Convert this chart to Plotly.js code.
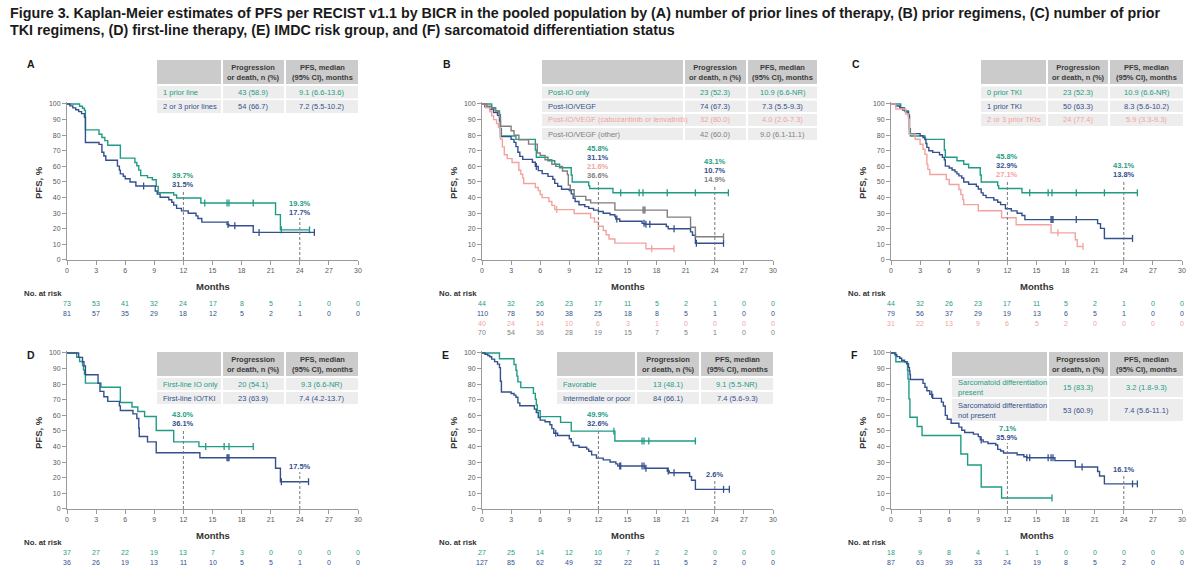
<!DOCTYPE html>
<html>
<head>
<meta charset="utf-8">
<script src="https://cdn.plot.ly/plotly-3.0.1.min.js"></script>
<style>
  html, body { margin: 0; padding: 0; background: #ffffff; }
  #chart { width: 1200px; height: 578px; }
</style>
</head>
<body>
<div id="chart"></div>
<script>
// ---------- shared ticks ----------
const monthTicks = [0, 3, 6, 9, 12, 15, 18, 21, 24, 27, 30];
const pctTicks = [0, 10, 20, 30, 40, 50, 60, 70, 80, 90, 100];

// ---------- (A) number of prior lines ----------
const aNames = ['1 prior line', '2 or 3 prior lines'];
const aEvents = ['43 (58.9)', '54 (66.7)'];
const aMedians = ['9.1 (6.6-13.6)', '7.2 (5.5-10.2)'];
const aOneT = [0, 1.3, 1.6, 1.8, 1.9, 3.3, 3.6, 3.9, 4.2, 5.5, 7.0, 7.2, 7.4, 7.6, 8.3, 8.8, 9.2, 9.4, 11.0, 11.3, 13.8, 21.5, 22.0, 25.0];
const aOneS = [100, 98.6, 97.3, 95.9, 83.4, 80.6, 78.5, 76.5, 73.6, 65.3, 62.5, 60.4, 57.6, 54.1, 52.8, 51.4, 47.2, 43.1, 41.7, 39.7, 36.5, 29.1, 19.3, 19.3];
const aOneCens = [14.2, 16.5, 16.7, 19.2, 22.1, 25.0];
const aTwoT = [0, 0.3, 0.6, 0.9, 1.2, 1.5, 1.8, 1.9, 3.3, 3.6, 3.8, 4.0, 5.2, 5.4, 5.5, 5.8, 6.0, 6.5, 7.1, 9.1, 9.3, 9.6, 10.5, 10.8, 11.0, 11.3, 11.8, 12.5, 13.3, 13.5, 13.9, 16.5, 16.7, 19.2, 25.5];
const aTwoS = [100, 98.8, 97.5, 96.3, 95.1, 93.8, 91.4, 75.3, 74.1, 69.1, 66.7, 63.9, 60.2, 57.6, 55.2, 53.7, 52.1, 50.0, 47.4, 44.2, 42.2, 40.2, 38.6, 37.0, 35.2, 33.1, 31.5, 30.0, 28.3, 26.6, 24.3, 22.8, 22.0, 17.7, 17.7];
const aTwoCens = [7.9, 16.6, 17.3, 19.8, 25.5];
const aRiskOne = [73, 53, 41, 32, 24, 17, 8, 5, 1, 0, 0];
const aRiskTwo = [81, 57, 35, 29, 18, 12, 5, 2, 1, 0, 0];
const aAt12 = [39.7, 31.5];
const aAt24 = [19.3, 17.7];

// ---------- (B) prior regimens ----------
const bNames = ['Post-IO only', 'Post-IO/VEGF', 'Post-IO/VEGF (cabozantinib or lenvatinib)', 'Post-IO/VEGF (other)'];
const bEvents = ['23 (52.3)', '74 (67.3)', '32 (80.0)', '42 (60.0)'];
const bMedians = ['10.9 (6.6-NR)', '7.3 (5.5-9.3)', '4.0 (2.0-7.3)', '9.0 (6.1-11.1)'];
const bIoT = [0, 1.0, 1.4, 1.8, 1.9, 2.0, 3.5, 5.5, 5.6, 6.8, 7.5, 8.0, 9.2, 9.3, 11.0, 11.1, 13.5, 25.4];
const bIoS = [100, 97.7, 95.5, 93.2, 84.1, 79.5, 77.3, 70.5, 65.9, 63.6, 61.4, 59.1, 54.5, 50.0, 47.7, 45.8, 43.1, 43.1];
const bIoCens = [14.3, 16.2, 16.6, 19.1, 22.0, 25.4];
const bVegfT = [0, 0.3, 0.8, 1.2, 1.6, 1.8, 1.9, 3.0, 3.3, 3.5, 3.7, 3.9, 4.2, 5.2, 5.5, 5.8, 6.2, 6.8, 7.3, 7.5, 7.8, 8.2, 9.0, 9.2, 9.4, 9.6, 10.0, 10.6, 11.0, 11.5, 12.0, 12.5, 13.2, 13.7, 13.8, 14.2, 16.5, 16.8, 19.0, 19.2, 21.5, 21.7, 22.0, 24.9];
const bVegfS = [100, 98.2, 96.4, 94.5, 92.7, 89.1, 79.1, 77.3, 75.4, 72.7, 69.1, 66.4, 64.5, 62.7, 60.0, 57.3, 55.4, 53.6, 51.8, 49.1, 47.3, 45.4, 44.5, 42.4, 39.6, 37.5, 35.4, 34.2, 33.1, 32.0, 31.1, 30.0, 29.0, 27.9, 26.3, 24.8, 23.5, 22.9, 21.5, 20.0, 18.0, 15.9, 10.7, 10.7];
const bVegfCens = [5.6, 13.9, 16.7, 16.9, 17.3, 19.8, 22.1, 24.9];
const bCaboT = [0, 0.4, 0.8, 1.0, 1.2, 1.5, 1.7, 1.9, 2.1, 2.3, 2.6, 3.1, 3.8, 4.0, 4.2, 4.3, 5.5, 5.8, 6.0, 6.2, 6.9, 7.2, 7.5, 9.5, 11.2, 11.6, 12.0, 12.5, 12.8, 13.1, 13.7, 16.9, 19.8];
const bCaboS = [100, 97.5, 95.0, 92.5, 90.0, 87.5, 85.0, 77.5, 72.5, 67.5, 65.0, 62.5, 57.5, 55.0, 52.5, 49.0, 46.5, 44.5, 42.0, 40.0, 37.5, 35.0, 32.3, 29.8, 27.0, 24.3, 21.6, 18.9, 16.2, 13.5, 10.8, 7.2, 7.2];
const bCaboCens = [7.7, 17.5, 19.8];
const bOtherT = [0, 0.5, 1.0, 1.4, 1.7, 1.8, 1.9, 3.0, 3.3, 3.8, 4.8, 5.7, 6.0, 6.5, 7.2, 7.6, 8.3, 8.8, 8.9, 9.1, 9.5, 10.7, 11.2, 13.7, 19.1, 21.5, 22.0, 24.9];
const bOtherS = [100, 98.6, 97.1, 95.7, 94.3, 91.4, 85.7, 82.9, 80.0, 77.1, 74.3, 68.6, 67.1, 64.3, 61.4, 60.0, 57.1, 54.7, 48.0, 45.0, 40.8, 38.5, 36.6, 32.0, 27.5, 21.0, 14.9, 14.9];
const bOtherCens = [16.6, 16.7, 16.8, 24.9];
const bRiskIo = [44, 32, 26, 23, 17, 11, 5, 2, 1, 0, 0];
const bRiskVegf = [110, 78, 50, 38, 25, 18, 8, 5, 1, 0, 0];
const bRiskCabo = [40, 24, 14, 10, 6, 3, 1, 0, 0, 0, 0];
const bRiskOther = [70, 54, 36, 28, 19, 15, 7, 5, 1, 0, 0];
const bAt12 = [45.8, 31.1, 21.6, 36.6];
const bAt24 = [43.1, 10.7, 14.9];

// ---------- (C) number of prior TKI regimens ----------
const cNames = ['0 prior TKI', '1 prior TKI', '2 or 3 prior TKIs'];
const cEvents = ['23 (52.3)', '50 (63.3)', '24 (77.4)'];
const cMedians = ['10.9 (6.6-NR)', '8.3 (5.6-10.2)', '5.9 (3.3-9.3)'];
const cZeroT = bIoT;
const cZeroS = bIoS;
const cZeroCens = bIoCens;
const cOneT = [0, 0.5, 0.9, 1.2, 1.5, 1.8, 1.9, 3.0, 3.3, 3.5, 3.6, 3.7, 3.9, 4.3, 5.0, 5.3, 5.5, 5.6, 6.0, 6.3, 6.6, 6.8, 7.0, 7.3, 7.5, 8.0, 8.8, 9.0, 9.3, 9.5, 9.8, 10.6, 11.0, 11.3, 11.8, 12.4, 13.0, 13.5, 13.8, 21.3, 21.6, 22.0, 24.9];
const cOneS = [100, 98.7, 97.5, 96.2, 94.9, 92.4, 81.0, 79.7, 78.5, 77.2, 74.7, 72.2, 70.0, 69.0, 67.5, 65.8, 64.2, 60.2, 59.0, 57.7, 56.5, 55.2, 53.9, 52.6, 50.0, 48.6, 47.2, 45.5, 43.0, 41.4, 40.0, 38.5, 37.0, 35.5, 32.9, 31.5, 30.0, 28.5, 25.9, 23.3, 20.3, 13.8, 13.8];
const cOneCens = [16.5, 16.6, 16.7, 19.1, 24.9];
const cTwoT = [0, 0.5, 1.5, 1.8, 1.9, 2.5, 3.0, 3.3, 3.5, 3.7, 3.8, 4.0, 5.7, 6.0, 7.0, 7.2, 7.4, 7.5, 9.0, 11.4, 12.9, 16.5, 19.0, 19.2, 19.8];
const cTwoS = [100, 96.8, 93.5, 90.3, 80.6, 77.4, 74.2, 71.0, 67.7, 61.3, 58.1, 54.8, 51.6, 48.4, 45.2, 41.9, 38.7, 35.5, 31.6, 27.1, 22.6, 17.4, 13.0, 8.7, 8.7];
const cTwoCens = [17.2, 19.8];
const cRiskZero = [44, 32, 26, 23, 17, 11, 5, 2, 1, 0, 0];
const cRiskOne = [79, 56, 37, 29, 19, 13, 6, 5, 1, 0, 0];
const cRiskTwo = [31, 22, 13, 9, 6, 5, 2, 0, 0, 0, 0];
const cAt12 = [45.8, 32.9, 27.1];
const cAt24 = [43.1, 13.8];

// ---------- (D) first-line therapy ----------
const dNames = ['First-line IO only', 'First-line IO/TKI'];
const dEvents = ['20 (54.1)', '23 (63.9)'];
const dMedians = ['9.3 (6.6-NR)', '7.4 (4.2-13.7)'];
const dIoT = [0, 1.0, 1.3, 1.6, 1.7, 1.8, 1.9, 3.5, 5.5, 6.7, 7.3, 8.0, 9.2, 11.0, 13.6, 19.2];
const dIoS = [100, 97.3, 94.6, 91.9, 89.2, 86.5, 80.7, 78.0, 68.3, 65.4, 62.5, 59.3, 50.3, 43.0, 40.0, 40.0];
const dIoCens = [14.3, 16.2, 16.7, 19.2];
const dTkiT = [0, 1.2, 1.6, 1.75, 1.9, 3.2, 3.4, 3.8, 4.2, 5.4, 5.5, 6.8, 7.2, 7.4, 7.45, 8.3, 9.2, 13.7, 21.5, 22.0, 24.9];
const dTkiS = [100, 97.2, 94.4, 91.7, 86.1, 80.6, 75.4, 72.0, 69.0, 66.1, 63.1, 61.0, 58.0, 51.8, 46.5, 43.0, 36.1, 32.9, 26.1, 17.5, 17.5];
const dTkiCens = [16.5, 16.6, 16.7, 22.1, 24.9];
const dRiskIo = [37, 27, 22, 19, 13, 7, 3, 0, 0, 0, 0];
const dRiskTki = [36, 26, 19, 13, 11, 10, 5, 5, 1, 0, 0];
const dAt12 = [43.0, 36.1];
const dAt24 = [17.5];

// ---------- (E) IMDC risk group ----------
const eNames = ['Favorable', 'Intermediate or poor'];
const eEvents = ['13 (48.1)', '84 (66.1)'];
const eMedians = ['9.1 (5.5-NR)', '7.4 (5.6-9.3)'];
const eFavT = [0, 1.8, 3.3, 3.5, 3.6, 3.7, 4.0, 5.3, 5.5, 5.6, 5.7, 6.0, 8.1, 9.2, 13.7, 22.0];
const eFavS = [100, 96.3, 92.6, 88.9, 85.2, 81.5, 77.8, 74.1, 70.4, 66.7, 63.0, 59.2, 55.5, 49.9, 43.6, 43.6];
const eFavCens = [13.6, 16.5, 16.7, 17.2, 22.0];
const eIntT = [0, 0.3, 0.6, 0.8, 1.0, 1.3, 1.6, 1.8, 1.9, 2.0, 3.0, 3.3, 3.5, 3.7, 3.9, 5.4, 5.6, 5.8, 6.0, 6.5, 7.0, 7.2, 7.4, 7.8, 9.0, 9.2, 9.4, 10.0, 10.8, 11.0, 11.3, 11.8, 12.5, 13.2, 13.8, 14.0, 16.8, 19.1, 19.3, 21.4, 21.6, 22.0, 25.5];
const eIntS = [100, 99.2, 98.4, 97.6, 96.1, 94.5, 92.9, 90.6, 81.9, 75.0, 74.0, 73.0, 71.6, 68.0, 66.2, 64.0, 61.8, 58.7, 57.0, 55.9, 54.0, 51.5, 48.6, 47.1, 45.0, 42.9, 40.7, 39.6, 38.4, 37.0, 34.7, 32.6, 31.5, 30.1, 28.9, 27.6, 26.1, 24.4, 23.2, 20.8, 18.4, 12.6, 12.6];
const eIntCens = [7.6, 14.2, 14.3, 16.5, 16.7, 16.9, 19.2, 19.8, 24.9, 25.5];
const eRiskFav = [27, 25, 14, 12, 10, 7, 2, 2, 0, 0, 0];
const eRiskInt = [127, 85, 62, 49, 32, 22, 11, 5, 2, 0, 0];
const eAt12 = [49.9, 32.6];
const eAt24 = [2.6];

// ---------- (F) sarcomatoid differentiation ----------
const fNames = ['Sarcomatoid differentiation<br>present', 'Sarcomatoid differentiation<br>not present'];
const fEvents = ['15 (83.3)', '53 (60.9)'];
const fMedians = ['3.2 (1.8-9.3)', '7.4 (5.6-11.1)'];
const fYesT = [0, 0.5, 1.7, 1.75, 1.85, 1.95, 2.7, 3.2, 7.2, 7.9, 9.3, 11.4, 16.6];
const fYesS = [100, 94.4, 88.9, 83.3, 70.6, 58.8, 52.9, 47.1, 35.3, 28.2, 14.1, 7.1, 7.1];
const fYesCens = [16.6];
const fNoT = [0, 0.4, 0.6, 0.9, 1.1, 1.4, 1.6, 1.8, 1.9, 1.95, 2.0, 3.3, 3.5, 3.7, 4.0, 4.3, 5.2, 5.4, 5.6, 5.8, 6.2, 7.0, 7.3, 7.6, 8.5, 9.0, 9.2, 9.5, 10.0, 10.8, 11.0, 11.3, 11.6, 13.0, 13.7, 14.0, 16.9, 19.0, 21.3, 21.5, 22.0, 25.4];
const fNoS = [100, 98.9, 97.7, 96.6, 95.4, 94.3, 93.1, 90.8, 88.5, 86.2, 83.0, 80.5, 78.0, 75.8, 73.5, 70.9, 68.5, 66.0, 60.0, 57.5, 55.0, 52.5, 50.5, 49.0, 48.0, 46.4, 44.3, 43.0, 42.0, 41.0, 38.2, 37.2, 35.9, 34.8, 33.5, 32.9, 31.0, 26.9, 24.0, 21.2, 16.1, 16.1];
const fNoCens = [4.2, 9.3, 14.0, 14.3, 16.2, 16.5, 16.7, 19.7, 24.9, 25.4];
const fRiskYes = [18, 9, 8, 4, 1, 1, 0, 0, 0, 0, 0];
const fRiskNo = [87, 63, 39, 33, 24, 19, 8, 5, 2, 0, 0];
const fAt12 = [7.1, 35.9];
const fAt24 = [16.1];

// ---------- styling ----------
const W = 1200, H = 578;
const fx = p => p / W;
const fy = p => 1 - p / H;
const TEAL = '#1f9c84', NAVY = '#34508e', PINK = '#f2a3a0', GRAY = '#7f7f7f';
const FONT = 'Liberation Sans, Arial, Helvetica, sans-serif';
const AXIS_C = '#9a9a9a', TICK_TXT = '#5a5a5a', DARK = '#333333';
const HEAD_FILL = '#cbcbcb', CELL_FILL = '#ededed';

function ser(name, color, t, s, cens, events, median, risk) {
  return { name, color, t, s, cens, events, median, risk };
}

const panels = [
  {
    letter: 'A', box: [67, 358, 104, 260], letterXY: [25, 64], pfsXY: [38, 183], monthsY: 286, riskHeadY: 293,
    table: { cols: [[157, 221], [223, 284], [286, 358]], head: [60, 84], rows: [[86, 98.5], [100, 113]] },
    series: [
      ser(aNames[0], TEAL, aOneT, aOneS, aOneCens, aEvents[0], aMedians[0], aRiskOne),
      ser(aNames[1], NAVY, aTwoT, aTwoS, aTwoCens, aEvents[1], aMedians[1], aRiskTwo)
    ],
    at12: { vals: aAt12, colors: [TEAL, NAVY], top: 54.1, line: 45 },
    at24: { vals: aAt24, colors: [TEAL, NAVY], top: 35.9, line: 27 }
  },
  {
    letter: 'B', box: [482, 773, 104, 260], letterXY: [441, 64], pfsXY: [453, 183], monthsY: 286, riskHeadY: 293,
    table: { cols: [[542, 683], [685, 746], [748, 817]], head: [60, 84], rows: [[86.5, 98.5], [100.5, 112], [114, 126], [128, 140]] },
    series: [
      ser(bNames[0], TEAL, bIoT, bIoS, bIoCens, bEvents[0], bMedians[0], bRiskIo),
      ser(bNames[1], NAVY, bVegfT, bVegfS, bVegfCens, bEvents[1], bMedians[1], bRiskVegf),
      ser(bNames[2], PINK, bCaboT, bCaboS, bCaboCens, bEvents[2], bMedians[2], bRiskCabo),
      ser(bNames[3], GRAY, bOtherT, bOtherS, bOtherCens, bEvents[3], bMedians[3], bRiskOther)
    ],
    at12: { vals: bAt12, colors: [TEAL, NAVY, PINK, GRAY], top: 71.6, line: 50.5 },
    at24: { vals: bAt24, colors: [TEAL, NAVY, GRAY], top: 63.0, line: 48 }
  },
  {
    letter: 'C', box: [891, 1182, 104, 260], letterXY: [850, 64], pfsXY: [862, 183], monthsY: 286, riskHeadY: 293,
    table: { cols: [[981, 1046], [1048, 1108], [1110, 1183]], head: [60, 84], rows: [[86.5, 98.5], [100.5, 112], [114, 126]] },
    series: [
      ser(cNames[0], TEAL, cZeroT, cZeroS, cZeroCens, cEvents[0], cMedians[0], cRiskZero),
      ser(cNames[1], NAVY, cOneT, cOneS, cOneCens, cEvents[1], cMedians[1], cRiskOne),
      ser(cNames[2], PINK, cTwoT, cTwoS, cTwoCens, cEvents[2], cMedians[2], cRiskTwo)
    ],
    at12: { vals: cAt12, colors: [TEAL, NAVY, PINK], top: 66.2, line: 51 },
    at24: { vals: cAt24, colors: [TEAL, NAVY], top: 60.5, line: 51 }
  },
  {
    letter: 'D', box: [67, 358, 353, 509], letterXY: [25, 355], pfsXY: [38, 433], monthsY: 535, riskHeadY: 542,
    table: { cols: [[157, 221], [223, 284], [286, 358]], head: [352, 376], rows: [[378, 390], [392, 404]] },
    series: [
      ser(dNames[0], TEAL, dIoT, dIoS, dIoCens, dEvents[0], dMedians[0], dRiskIo),
      ser(dNames[1], NAVY, dTkiT, dTkiS, dTkiCens, dEvents[1], dMedians[1], dRiskTki)
    ],
    at12: { vals: dAt12, colors: [TEAL, NAVY], top: 60.4, line: 51 },
    at24: { vals: dAt24, colors: [NAVY], top: 27.2, line: 23.7 }
  },
  {
    letter: 'E', box: [482, 773, 353, 509], letterXY: [440, 355], pfsXY: [453, 433], monthsY: 535, riskHeadY: 542,
    table: { cols: [[557, 635], [637, 699], [701, 773]], head: [352, 376], rows: [[378, 390], [392, 404]] },
    series: [
      ser(eNames[0], TEAL, eFavT, eFavS, eFavCens, eEvents[0], eMedians[0], eRiskFav),
      ser(eNames[1], NAVY, eIntT, eIntS, eIntCens, eEvents[1], eMedians[1], eRiskInt)
    ],
    at12: { vals: eAt12, colors: [TEAL, NAVY], top: 60.8, line: 51.5 },
    at24: { vals: eAt24, colors: [NAVY], top: 22.3, line: 18.8 }
  },
  {
    letter: 'F', box: [891, 1182, 353, 509], letterXY: [849, 355], pfsXY: [862, 433], monthsY: 535, riskHeadY: 542,
    table: { cols: [[952, 1047], [1049, 1108], [1110, 1183]], head: [352, 376], rows: [[378, 397], [399, 421]] },
    series: [
      ser(fNames[0], TEAL, fYesT, fYesS, fYesCens, fEvents[0], fMedians[0], fRiskYes),
      ser(fNames[1], NAVY, fNoT, fNoS, fNoCens, fEvents[1], fMedians[1], fRiskNo)
    ],
    at12: { vals: fAt12, colors: [TEAL, NAVY], top: 51.6, line: 42.3 },
    at24: { vals: fAt24, colors: [NAVY], top: 25.0, line: 21.5 }
  }
];

// value of a step curve at time x
function stepAt(t, s, x) {
  let v = s[0];
  for (let i = 0; i < t.length; i++) {
    if (t[i] <= x) v = s[i]; else break;
  }
  return v;
}

const traces = [];
const shapes = [];
const annotations = [];
const layout = {
  width: W, height: H,
  margin: { l: 0, r: 0, t: 0, b: 0 },
  paper_bgcolor: '#ffffff', plot_bgcolor: 'rgba(0,0,0,0)',
  showlegend: false,
  font: { family: FONT, color: DARK },
  shapes, annotations
};

function txt(x, y, text, opts) {
  annotations.push(Object.assign({
    xref: 'paper', yref: 'paper', x: x, y: y, text: text, showarrow: false,
    xanchor: 'center', yanchor: 'middle', font: { family: FONT, size: 7.5, color: DARK }
  }, opts || {}));
}

// figure caption (two lines)
const captionFont = { family: FONT, size: 14.3, color: '#1a1a1a', weight: 'bold' };
txt(fx(8), fy(12.5), 'Figure 3. Kaplan-Meier estimates of PFS per RECIST v1.1 by BICR in the pooled population by (A) number of prior lines of therapy, (B) prior regimens, (C) number of prior',
  { xanchor: 'left', font: captionFont });
txt(fx(8), fy(30), 'TKI regimens, (D) first-line therapy, (E) IMDC risk group, and (F) sarcomatoid differentiation status',
  { xanchor: 'left', font: captionFont });

panels.forEach((p, i) => {
  const k = i + 1;
  const xa = k === 1 ? 'x' : 'x' + k;
  const ya = k === 1 ? 'y' : 'y' + k;
  const xKey = k === 1 ? 'xaxis' : 'xaxis' + k;
  const yKey = k === 1 ? 'yaxis' : 'yaxis' + k;
  const [x0, x1, yTop, yBot] = p.box;
  const pxPerPct = (yBot - yTop) / 100;

  layout[xKey] = {
    domain: [fx(x0), fx(x1)], range: [0, 30], anchor: ya,
    tickmode: 'array', tickvals: monthTicks, ticktext: monthTicks.map(String),
    ticks: 'outside', ticklen: 4, tickwidth: 1, tickcolor: AXIS_C,
    showline: true, linecolor: AXIS_C, linewidth: 1,
    showgrid: false, zeroline: false, fixedrange: true,
    tickfont: { family: FONT, size: 7, color: TICK_TXT }
  };
  layout[yKey] = {
    domain: [fy(yBot), fy(yTop - 1.2 * pxPerPct)], range: [0, 101.2], anchor: xa,
    tickmode: 'array', tickvals: pctTicks, ticktext: pctTicks.map(String),
    ticks: 'outside', ticklen: 4, tickwidth: 1, tickcolor: AXIS_C,
    showline: true, linecolor: AXIS_C, linewidth: 1,
    showgrid: false, zeroline: false, fixedrange: true,
    tickfont: { family: FONT, size: 7, color: TICK_TXT }
  };

  // dashed landmark lines at 12 and 24 months
  [[12, p.at12], [24, p.at24]].forEach(([m, lm]) => {
    shapes.push({ type: 'line', xref: xa, yref: ya, x0: m, x1: m, y0: 0, y1: lm.line,
      line: { color: '#777777', width: 1, dash: '3px,2px' } });
    lm.vals.forEach((v, j) => {
      annotations.push({ xref: xa, yref: ya, x: m, y: lm.top - j * 9 / pxPerPct,
        text: v.toFixed(1) + '%', showarrow: false, xanchor: 'center', yanchor: 'middle',
        font: { family: FONT, size: 7.5, color: lm.colors[j], weight: 'bold' } });
    });
  });

  // survival curves with censor ticks
  p.series.forEach(sr => {
    traces.push({ type: 'scatter', mode: 'lines', x: sr.t, y: sr.s, xaxis: xa, yaxis: ya,
      line: { color: sr.color, width: 1.4, shape: 'hv' }, hoverinfo: 'skip', name: sr.name });
    traces.push({ type: 'scatter', mode: 'markers', x: sr.cens, y: sr.cens.map(c => stepAt(sr.t, sr.s, c)),
      xaxis: xa, yaxis: ya, cliponaxis: false,
      marker: { symbol: 'line-ns', size: 5, line: { color: sr.color, width: 1.3 } }, hoverinfo: 'skip' });
  });

  // panel letter and axis titles
  txt(fx(p.letterXY[0]), fy(p.letterXY[1]), p.letter, { xanchor: 'left', font: { family: FONT, size: 10.5, color: '#1a1a1a', weight: 'bold' } });
  txt(fx(p.pfsXY[0]), fy(p.pfsXY[1]), 'PFS, %', { textangle: -90, font: { family: FONT, size: 9.5, color: DARK, weight: 'bold' } });
  txt(fx((x0 + x1) / 2), fy(p.monthsY), 'Months', { font: { family: FONT, size: 9.5, color: DARK, weight: 'bold' } });

  // summary table
  const tb = p.table;
  const cellRect = (c, r, fill) => shapes.push({ type: 'rect', xref: 'paper', yref: 'paper',
    x0: fx(c[0]), x1: fx(c[1]), y0: fy(r[1]), y1: fy(r[0]), fillcolor: fill, line: { width: 0 }, layer: 'below' });
  tb.cols.forEach(c => cellRect(c, tb.head, HEAD_FILL));
  txt(fx((tb.cols[1][0] + tb.cols[1][1]) / 2), fy((tb.head[0] + tb.head[1]) / 2), 'Progression<br>or death, n (%)',
    { font: { family: FONT, size: 7.5, color: '#3a3a3a', weight: 'bold' } });
  txt(fx((tb.cols[2][0] + tb.cols[2][1]) / 2), fy((tb.head[0] + tb.head[1]) / 2), 'PFS, median<br>(95% CI), months',
    { font: { family: FONT, size: 7.5, color: '#3a3a3a', weight: 'bold' } });
  p.series.forEach((sr, j) => {
    const r = tb.rows[j];
    tb.cols.forEach(c => cellRect(c, r, CELL_FILL));
    const cy = fy((r[0] + r[1]) / 2);
    txt(fx(tb.cols[0][0] + 4), cy, sr.name, { xanchor: 'left', align: 'left', font: { family: FONT, size: 7.5, color: sr.color } });
    txt(fx((tb.cols[1][0] + tb.cols[1][1]) / 2), cy, sr.events, { font: { family: FONT, size: 7.5, color: sr.color } });
    txt(fx((tb.cols[2][0] + tb.cols[2][1]) / 2), cy, sr.median, { font: { family: FONT, size: 7.5, color: sr.color } });
  });

  // number at risk
  const riskLeft = x0 - 45;
  txt(fx(riskLeft), fy(p.riskHeadY), 'No. at risk', { xanchor: 'left', font: { family: FONT, size: 7.8, color: DARK, weight: 'bold' } });
  p.series.forEach((sr, j) => {
    sr.risk.forEach((n, m) => {
      annotations.push({ xref: xa, yref: 'paper', x: monthTicks[m], y: fy(p.riskHeadY + 10 * (j + 1)),
        text: String(n), showarrow: false, xanchor: 'center', yanchor: 'middle',
        font: { family: FONT, size: 7, color: sr.color } });
    });
  });
});

Plotly.newPlot('chart', traces, layout, { staticPlot: true, displayModeBar: false });
</script>
</body>
</html>
